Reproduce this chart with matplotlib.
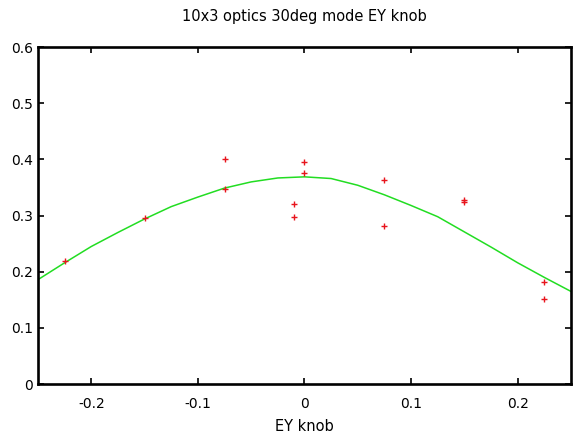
import matplotlib
matplotlib.use('Agg')
import matplotlib.pyplot as plt

# measured points
knob = [-0.225, -0.15, -0.075, -0.075, -0.01, -0.01, 0.0, 0.0,
        0.075, 0.075, 0.15, 0.15, 0.225, 0.225]
sig = [0.219, 0.295, 0.400, 0.348, 0.320, 0.298, 0.396, 0.375,
       0.364, 0.282, 0.328, 0.324, 0.181, 0.151]

# fit curve
fit_x = [-0.25, -0.225, -0.2, -0.175, -0.15, -0.125, -0.1, -0.075, -0.05, -0.025,
         0.0, 0.025, 0.05, 0.075, 0.1, 0.125, 0.15, 0.175, 0.2, 0.225, 0.25]
fit_y = [0.186, 0.216, 0.245, 0.270, 0.294, 0.316, 0.333, 0.349, 0.360, 0.367,
         0.369, 0.366, 0.354, 0.337, 0.318, 0.298, 0.271, 0.244, 0.216, 0.190, 0.165]

xticks = [-0.2, -0.1, 0, 0.1, 0.2]
xlabels = ['-0.2', '-0.1', '0', '0.1', '0.2']
yticks = [0, 0.1, 0.2, 0.3, 0.4, 0.5, 0.6]
ylabels = ['0', '0.1', '0.2', '0.3', '0.4', '0.5', '0.6']

fig = plt.figure(figsize=(5.87, 4.36), dpi=100)
ax = fig.add_axes([0.0647, 0.119, 0.908, 0.773])

ax.plot(fit_x, fit_y, color='#22dd22', lw=1.1)
ax.plot(knob, sig, '+', color='#e8141c', ms=5, mew=1.0)

ax.set_xlim(-0.25, 0.25)
ax.set_ylim(0, 0.6)
ax.set_xticks(xticks)
ax.set_xticklabels(xlabels)
ax.set_yticks(yticks)
ax.set_yticklabels(ylabels)
ax.tick_params(direction='in', length=4, width=1.2, top=True, right=True,
               labelsize=10, colors='black')
ax.tick_params(axis='x', pad=9)
for s in ax.spines.values():
    s.set_linewidth(1.9)

ax.set_xlabel('EY knob', fontsize=10.5, labelpad=6)
ax.set_title('10x3 optics 30deg mode EY knob', fontsize=10.5, pad=19)

fig.savefig('out.png', dpi=100)
